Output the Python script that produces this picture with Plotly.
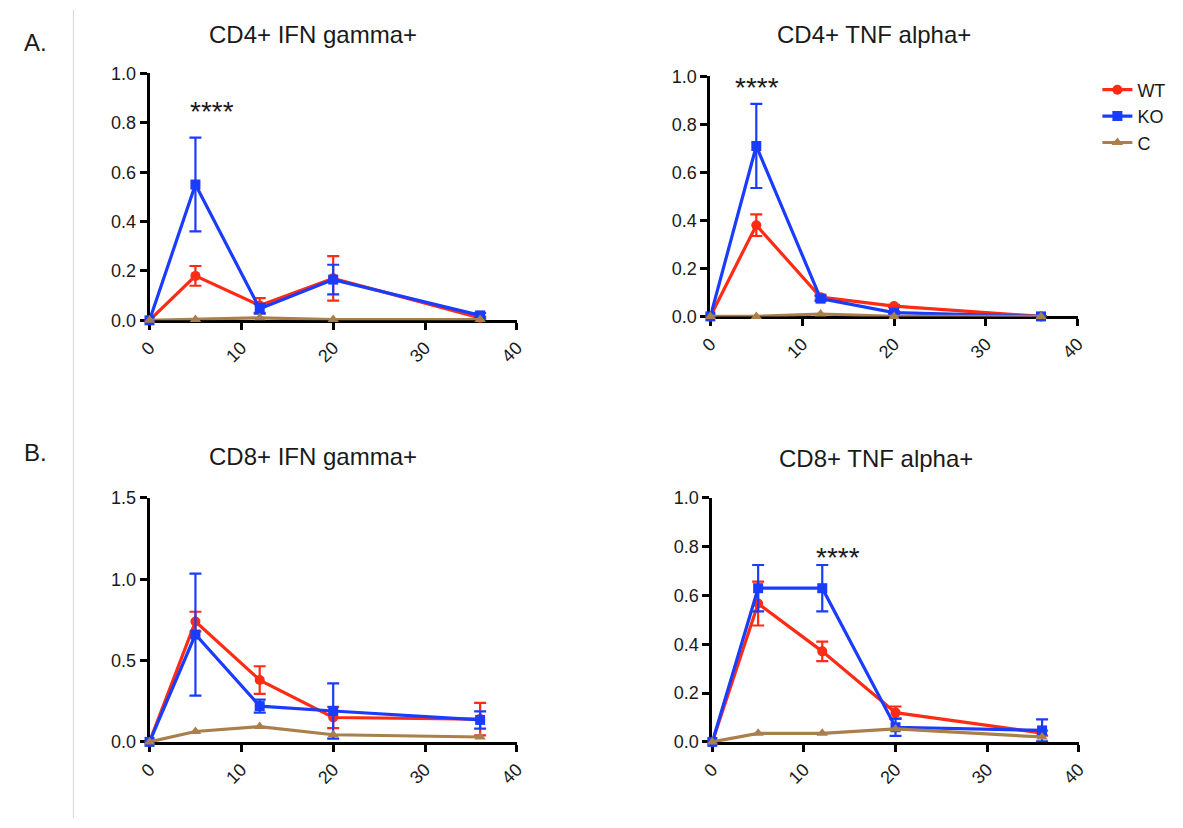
import plotly.graph_objects as go

# ---- data ----
days = [0, 5, 12, 20, 36]
series_names = ["WT", "KO", "C"]

cd4_ifn_wt = [0, 0.18, 0.06, 0.17, 0.01]
cd4_ifn_wt_err = [0, 0.04, 0.03, 0.09, 0.005]
cd4_ifn_ko = [0, 0.55, 0.047, 0.165, 0.02]
cd4_ifn_ko_err = [0, 0.19, 0.02, 0.06, 0.01]
cd4_ifn_c = [0, 0.003, 0.01, 0.003, 0.003]

cd4_tnf_wt = [0, 0.38, 0.08, 0.043, 0.0]
cd4_tnf_wt_err = [0, 0.045, 0.01, 0.005, 0]
cd4_tnf_ko = [0, 0.71, 0.074, 0.016, 0.0]
cd4_tnf_ko_err = [0, 0.175, 0.01, 0.005, 0]
cd4_tnf_c = [0, 0.0, 0.01, 0.0, 0.0]

cd8_ifn_wt = [0, 0.74, 0.38, 0.15, 0.14]
cd8_ifn_wt_err = [0, 0.06, 0.085, 0.065, 0.1]
cd8_ifn_ko = [0, 0.66, 0.22, 0.19, 0.135]
cd8_ifn_ko_err = [0, 0.375, 0.04, 0.17, 0.053]
cd8_ifn_c = [0, 0.064, 0.094, 0.044, 0.03]

cd8_tnf_wt = [0, 0.567, 0.371, 0.12, 0.036]
cd8_tnf_wt_err = [0, 0.09, 0.04, 0.025, 0.01]
cd8_tnf_ko = [0, 0.63, 0.63, 0.06, 0.047]
cd8_tnf_ko_err = [0, 0.095, 0.095, 0.035, 0.045]
cd8_tnf_c = [0, 0.035, 0.035, 0.053, 0.02]

panel_titles = ["CD4+ IFN gamma+", "CD4+ TNF alpha+", "CD8+ IFN gamma+", "CD8+ TNF alpha+"]
x_ticks = [0, 10, 20, 30, 40]
y_ticks_a = [0, 0.2, 0.4, 0.6, 0.8, 1.0]
y_ticks_b1 = [0, 0.5, 1.0, 1.5]

# significance marks: (panel, x, y)
stars = [(1, 6.85, 0.845), (2, 5.1, 0.955), (4, 13.7, 0.756)]

# ---- styling ----
W, H = 1183, 828
colors = {"WT": "#ff2b14", "KO": "#1a3cff", "C": "#a97f4c"}
symbols = {"WT": "circle", "KO": "square", "C": "triangle-up"}
FONT = "Liberation Sans, Arial, Helvetica, sans-serif"

def px_x(p):
    return p / W

def px_y(p):
    return 1 - p / H

domains = {
    1: ([px_x(140), px_x(514)], [px_y(318), px_y(65)]),
    2: ([px_x(711), px_x(1085)], [px_y(314), px_y(68)]),
    3: ([px_x(140), px_x(514)], [px_y(750), px_y(500)]),
    4: ([px_x(713), px_x(1086)], [px_y(750), px_y(500)]),
}

panels = {
    1: (cd4_ifn_wt, cd4_ifn_wt_err, cd4_ifn_ko, cd4_ifn_ko_err, cd4_ifn_c),
    2: (cd4_tnf_wt, cd4_tnf_wt_err, cd4_tnf_ko, cd4_tnf_ko_err, cd4_tnf_c),
    3: (cd8_ifn_wt, cd8_ifn_wt_err, cd8_ifn_ko, cd8_ifn_ko_err, cd8_ifn_c),
    4: (cd8_tnf_wt, cd8_tnf_wt_err, cd8_tnf_ko, cd8_tnf_ko_err, cd8_tnf_c),
}

fig = go.Figure()

for p, (wt, wte, ko, koe, c) in panels.items():
    xa = "x" if p == 1 else f"x{p}"
    ya = "y" if p == 1 else f"y{p}"
    for name, vals, errs in [("WT", wt, wte), ("KO", ko, koe), ("C", c, None)]:
        kw = {}
        if errs is not None:
            kw["error_y"] = dict(type="data", array=errs, visible=True,
                                 color=colors[name], thickness=2.2, width=6)
        fig.add_trace(go.Scatter(
            x=days, y=vals, mode="lines+markers", name=name,
            line=dict(color=colors[name], width=3.2),
            marker=dict(symbol=symbols[name], size=10, color=colors[name]),
            xaxis=xa, yaxis=ya, cliponaxis=False,
            showlegend=(p == 2), legendgroup=name, **kw))

axis_common = dict(showline=True, linecolor="black", linewidth=3, ticks="outside",
                   ticklen=7, tickwidth=3, tickcolor="black", showgrid=False,
                   zeroline=False, layer="below traces",
                   tickfont=dict(size=18, family=FONT, color="#1a1a1a"))

layout = {}
for p, (dx, dy) in domains.items():
    sx = "xaxis" if p == 1 else f"xaxis{p}"
    sy = "yaxis" if p == 1 else f"yaxis{p}"
    anchor_x = "y" if p == 1 else f"y{p}"
    anchor_y = "x" if p == 1 else f"x{p}"
    layout[sx] = dict(domain=dx, anchor=anchor_x, range=[0, 40], tickvals=x_ticks,
                      tickangle=-45, **axis_common)
    if p == 3:
        layout[sy] = dict(domain=dy, anchor=anchor_y, range=[0, 1.5], tickvals=y_ticks_b1,
                          tickformat=".1f", **axis_common)
    else:
        layout[sy] = dict(domain=dy, anchor=anchor_y, range=[0, 1.0], tickvals=y_ticks_a,
                          tickformat=".1f", **axis_common)

annotations = []
title_pos = [(306, 25), (878, 25), (306, 458), (880, 460)]
for t, (tx, ty) in zip(panel_titles, title_pos):
    annotations.append(dict(text=t, x=px_x(tx), y=px_y(ty), xref="paper", yref="paper",
                            xanchor="center", yanchor="middle", showarrow=False,
                            font=dict(size=24, family=FONT, color="#1a1a1a")))
for lab, ly in [("A.", 33), ("B.", 453)]:
    annotations.append(dict(text=lab, x=px_x(10), y=px_y(ly), xref="paper", yref="paper",
                            xanchor="left", yanchor="middle", showarrow=False,
                            font=dict(size=24, family=FONT, color="#1a1a1a")))
for p, sx, sy in stars:
    annotations.append(dict(text="****", x=sx, y=sy,
                            xref="x" if p == 1 else f"x{p}",
                            yref="y" if p == 1 else f"y{p}",
                            xanchor="center", yanchor="middle", showarrow=False,
                            font=dict(size=28, family=FONT, color="#1a1a1a")))

fig.update_layout(
    width=W, height=H, margin=dict(l=0, r=0, t=0, b=0),
    paper_bgcolor="white", plot_bgcolor="white",
    showlegend=True,
    legend=dict(x=px_x(1105), y=px_y(63), xanchor="left", yanchor="top",
                font=dict(size=18, family=FONT, color="#1a1a1a"),
                bgcolor="rgba(0,0,0,0)", tracegroupgap=0, itemwidth=30),
    annotations=annotations,
    shapes=[dict(type="line", xref="paper", yref="paper", x0=px_x(62.5), x1=px_x(62.5),
                 y0=0, y1=1, line=dict(color="#d4d4d4", width=1))],
    **layout,
)

fig.write_html("out.html", config={"displayModeBar": False},
               post_script="document.body.style.margin='0';document.body.style.overflow='hidden';")
